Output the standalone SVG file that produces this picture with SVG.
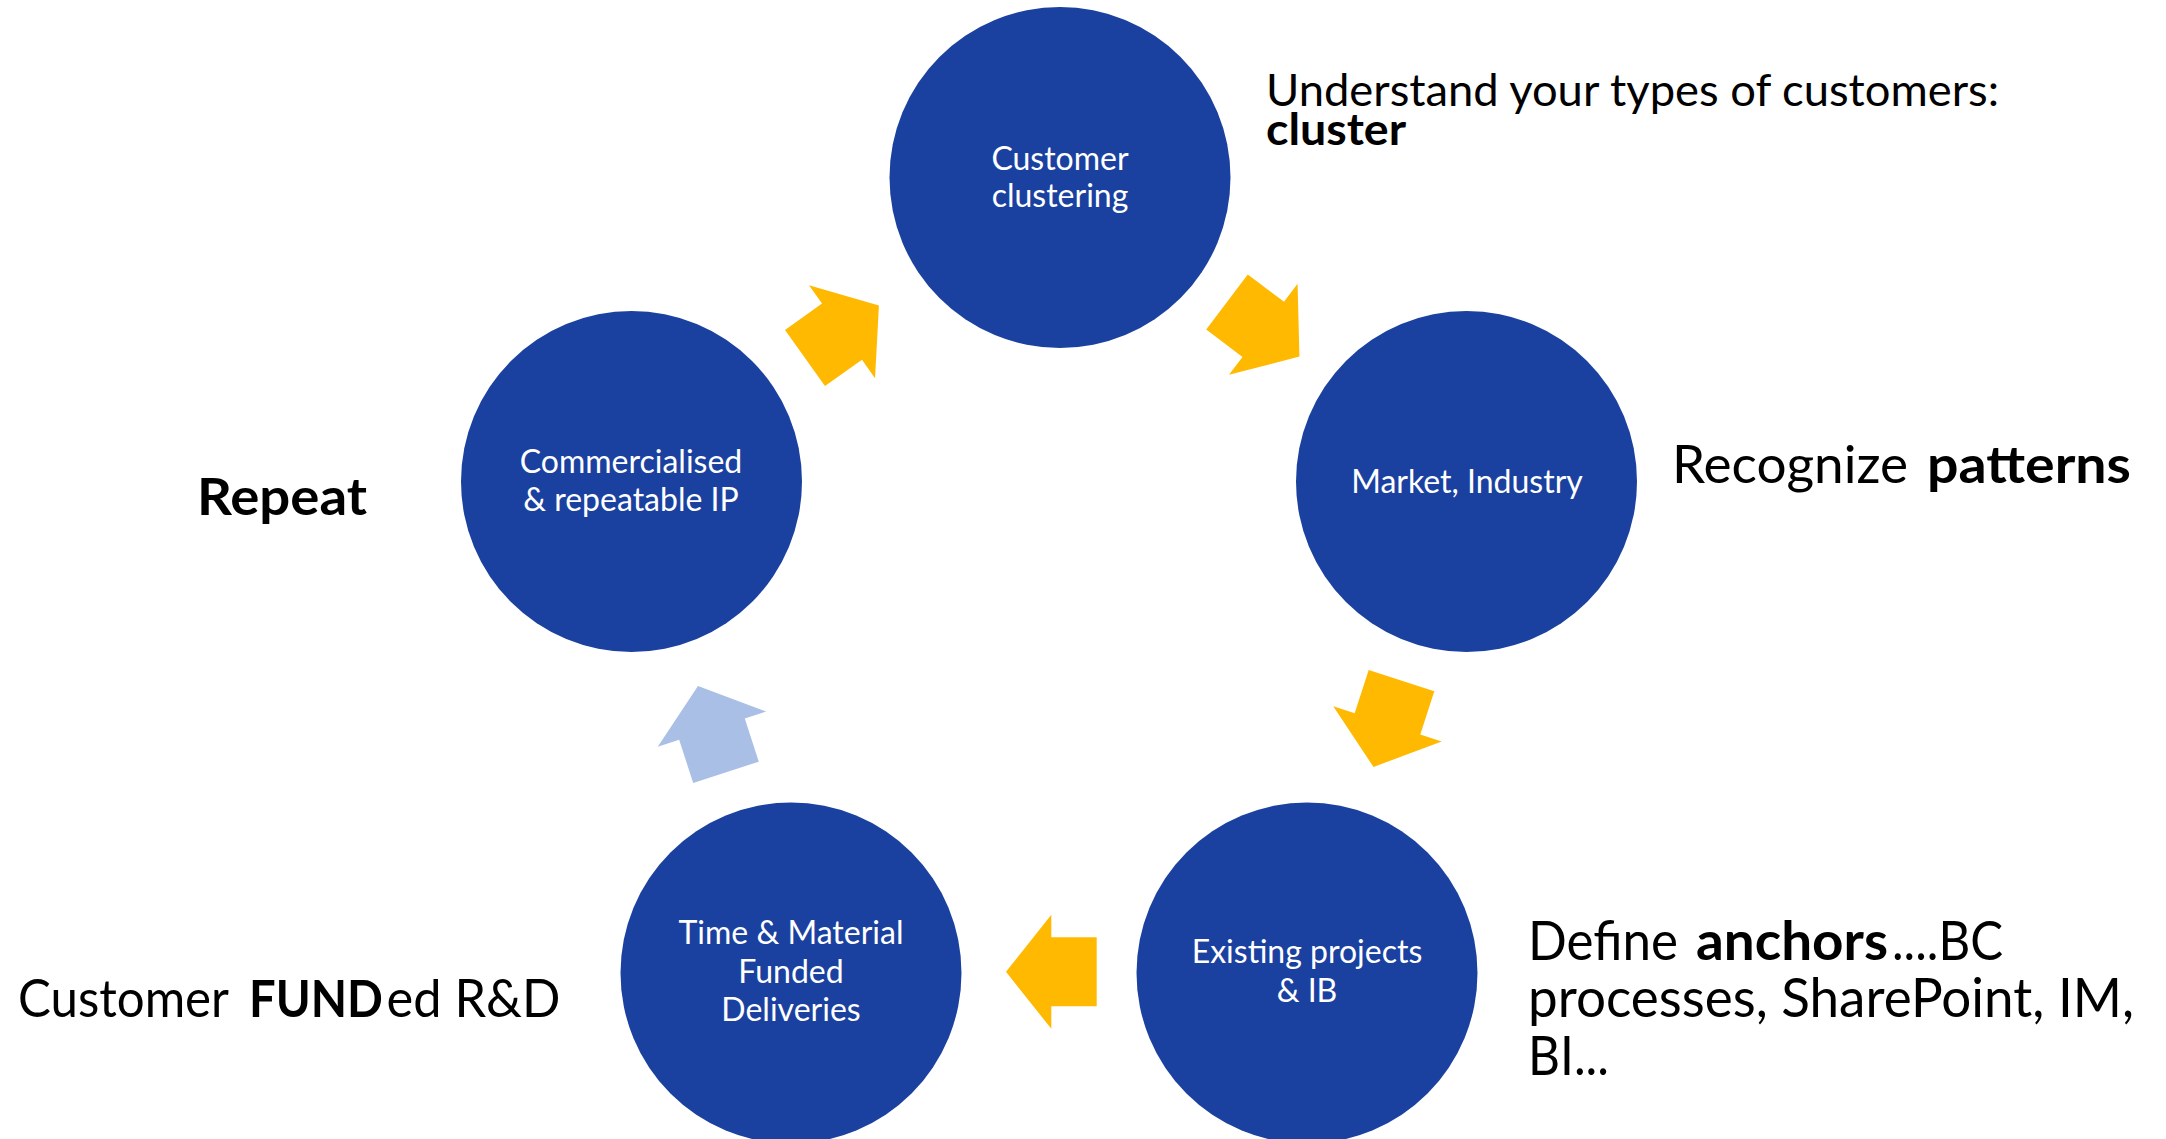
<svg xmlns="http://www.w3.org/2000/svg" xmlns:xlink="http://www.w3.org/1999/xlink" width="2166" height="1139" viewBox="0 0 2166 1139">
  <style>
    .node { fill: #1B41A0; }
    .lbl { font-family: Lato, "Open Sans", "Liberation Sans", sans-serif; font-size: 32px; fill: #FFFFFF; text-anchor: middle; }
    .note { font-family: Lato, "Open Sans", "Liberation Sans", sans-serif; fill: #000000; }
    .b { font-weight: bold; }
    .gold { fill: #FFB900; }
    .pale { fill: #A9BFE6; }
  </style>
  <defs>
    <!-- block arrow pointing along +x, back edge centred on the origin -->
    <polygon id="arw" points="0,-34.5 45.4,-34.5 45.4,-57 90.7,0 45.4,57 45.4,34.5 0,34.5"/>
  </defs>
  <rect width="2166" height="1139" fill="#FFFFFF"/>

  <g id="connectors">
    <use xlink:href="#arw" class="gold" transform="translate(805,358) rotate(-35.4)"/>
    <use xlink:href="#arw" class="gold" transform="translate(1227,302) rotate(37)"/>
    <use xlink:href="#arw" class="gold" transform="translate(1401.5,680.7) rotate(108)"/>
    <use xlink:href="#arw" class="gold" transform="translate(1096.7,971.8) rotate(180)"/>
    <use xlink:href="#arw" class="pale" transform="translate(726,772.3) rotate(-108)"/>
  </g>

  <g id="customer-clustering">
    <circle class="node" cx="1060" cy="177.5" r="170.5"/>
    <text class="lbl" x="1060" y="170">Customer</text>
    <text class="lbl" x="1060" y="206.7">clustering</text>
  </g>

  <g id="market-industry">
    <circle class="node" cx="1466.5" cy="481.5" r="170.5"/>
    <text class="lbl" x="1467" y="492.7">Market, Industry</text>
  </g>

  <g id="existing-projects">
    <circle class="node" cx="1307" cy="973" r="170.5"/>
    <text class="lbl" x="1307" y="963.3">Existing projects</text>
    <text class="lbl" x="1307" y="1001.7">&amp; IB</text>
  </g>

  <g id="time-material">
    <circle class="node" cx="791" cy="973" r="170.5"/>
    <text class="lbl" x="791" y="944.3">Time &amp; Material</text>
    <text class="lbl" x="791" y="982.7">Funded</text>
    <text class="lbl" x="791" y="1020.7">Deliveries</text>
  </g>

  <g id="commercialised-ip">
    <circle class="node" cx="631.5" cy="481.5" r="170.5"/>
    <text class="lbl" x="631" y="472.7">Commercialised</text>
    <text class="lbl" x="631" y="510.7">&amp; repeatable IP</text>
  </g>

  <g id="note-cluster">
    <text class="note" x="1266" y="106" font-size="44" textLength="733" lengthAdjust="spacingAndGlyphs">Understand your types of customers:</text>
    <text class="note b" x="1266" y="145" font-size="44" textLength="140" lengthAdjust="spacingAndGlyphs">cluster</text>
  </g>

  <g id="note-patterns">
    <text class="note" x="1672" y="483" font-size="52" textLength="236" lengthAdjust="spacingAndGlyphs">Recognize</text>
    <text class="note b" x="1927" y="483" font-size="52" textLength="204" lengthAdjust="spacingAndGlyphs">patterns</text>
  </g>

  <g id="note-repeat">
    <text class="note b" x="197" y="515" font-size="52" textLength="170" lengthAdjust="spacingAndGlyphs">Repeat</text>
  </g>

  <g id="note-funded">
    <text class="note" x="18" y="1017" font-size="52" textLength="211" lengthAdjust="spacingAndGlyphs">Customer</text>
    <text class="note b" x="249" y="1017" font-size="52" textLength="134" lengthAdjust="spacingAndGlyphs">FUND</text>
    <text class="note" x="386.5" y="1017" font-size="52" textLength="174" lengthAdjust="spacingAndGlyphs">ed R&amp;D</text>
  </g>

  <g id="note-anchors">
    <text class="note" x="1528" y="960" font-size="54" textLength="150" lengthAdjust="spacingAndGlyphs">Define</text>
    <text class="note b" x="1696" y="960" font-size="54" textLength="192" lengthAdjust="spacingAndGlyphs">anchors</text>
    <text class="note" x="1892" y="960" font-size="54" textLength="111" lengthAdjust="spacingAndGlyphs">....BC</text>
    <text class="note" x="1528" y="1017" font-size="54" textLength="606" lengthAdjust="spacingAndGlyphs">processes, SharePoint, IM,</text>
    <text class="note" x="1528" y="1075" font-size="54" textLength="81" lengthAdjust="spacingAndGlyphs">BI...</text>
  </g>
</svg>
